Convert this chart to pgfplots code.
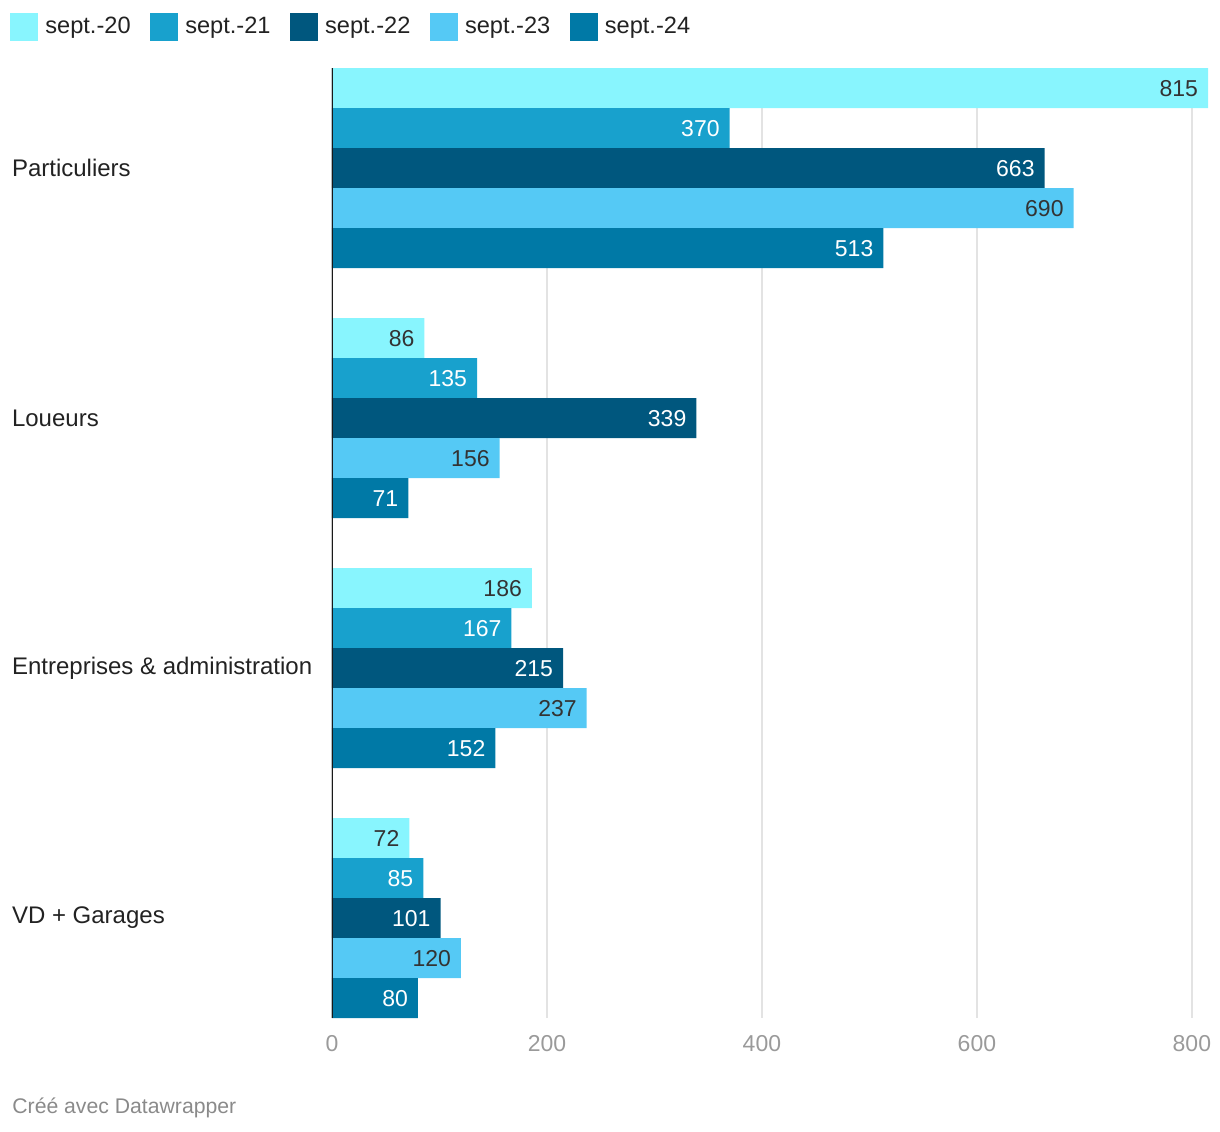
\documentclass[border=0pt]{standalone}
\usepackage{pgfplots}
\pgfplotsset{compat=1.18}
\usepackage{fontspec}
\setmainfont{Liberation Sans}
\definecolor{c20}{HTML}{88F5FE}
\definecolor{c21}{HTML}{18A1CD}
\definecolor{c22}{HTML}{00577E}
\definecolor{c23}{HTML}{55C9F5}
\definecolor{c24}{HTML}{0079A6}
\definecolor{darktext}{HTML}{333333}
\definecolor{labtext}{HTML}{222222}
\definecolor{tickgray}{HTML}{9A9A9A}
\definecolor{gridgray}{HTML}{E3E3E3}
\definecolor{footgray}{HTML}{8A8A8A}
\begin{document}
\begin{tikzpicture}
\begin{axis}[
  scale only axis, width=438pt, height=475pt,
  xbar, bar width=20pt,
  xmin=0, xmax=815, ymin=-0.4, ymax=3.4, y dir=reverse,
  axis line style={draw=none},
  xtick={0,200,400,600,800},
  ytick={0,1,2,3},
  yticklabels={Particuliers, Loueurs, Entreprises \& administration, VD + Garages},
  major tick length=0pt,
  xmajorgrids, grid style={draw=gridgray, line width=1pt},
  /pgf/number format/assume math mode=true,
  xticklabel style={text=tickgray, font=\fontsize{11.5}{13}\selectfont, yshift=-5pt},
  yticklabel style={anchor=west, xshift=-163.5pt, text=labtext, font=\fontsize{12}{14}\selectfont},
  point meta=x,
  nodes near coords,
  nodes near coords style={anchor=east, xshift=-1.5pt, yshift=-0.3pt, font=\fontsize{11.5}{13}\selectfont, text=white,
    /pgf/number format/fixed, /pgf/number format/precision=0},
  legend columns=5,
  legend style={draw=none, fill=none, inner sep=0pt, nodes={inner sep=0pt},
    at={(0,1)}, anchor=south west, xshift=-161pt, yshift=13.5pt,
    font=\fontsize{11.8}{13}\selectfont, text=labtext,
    /tikz/every odd column/.append style={column sep=3.5pt},
    /tikz/every even column/.append style={column sep=9.8pt}},
  legend image code/.code={\fill[#1] (0pt,-7pt) rectangle (14pt,7pt);},
]
\addplot[fill=c20, draw=none, bar shift=40pt, nodes near coords style={text=darktext}]
  coordinates {(815,0) (86,1) (186,2) (72,3)};
\addplot[fill=c21, draw=none, bar shift=20pt]
  coordinates {(370,0) (135,1) (167,2) (85,3)};
\addplot[fill=c22, draw=none, bar shift=0pt]
  coordinates {(663,0) (339,1) (215,2) (101,3)};
\addplot[fill=c23, draw=none, bar shift=-20pt, nodes near coords style={text=darktext}]
  coordinates {(690,0) (156,1) (237,2) (120,3)};
\addplot[fill=c24, draw=none, bar shift=-40pt]
  coordinates {(513,0) (71,1) (152,2) (80,3)};
\legend{sept.-20, sept.-21, sept.-22, sept.-23, sept.-24}
\draw[black!90, line width=1pt] (axis cs:0,-0.4) -- (axis cs:0,3.4);
\end{axis}
\node[anchor=base west, inner sep=0pt, text=footgray, font=\fontsize{10.6}{12}\selectfont]
  at ([xshift=-160pt, yshift=-48pt]current axis.south west) {Créé avec Datawrapper};
\path ([xshift=-166pt, yshift=-57pt]current axis.south west) rectangle ([xshift=6pt, yshift=34pt]current axis.north east);
\end{tikzpicture}
\end{document}
